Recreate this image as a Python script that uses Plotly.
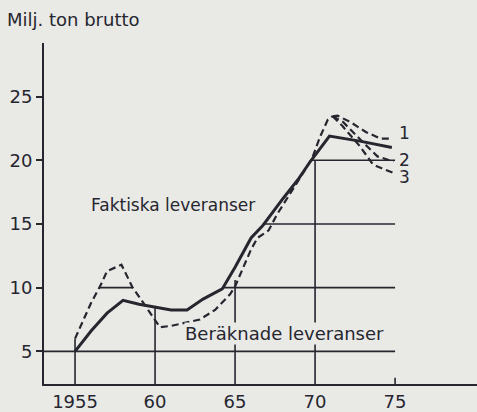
import numpy as np
import plotly.graph_objects as go

# Faktiska leveranser (solid line)
fakt_years = [1955, 1956, 1957, 1958, 1959, 1960, 1961, 1962, 1963, 1964.2, 1965, 1966,
              1966.75, 1968, 1969, 1969.7, 1970.9, 1972.8, 1974.8]
fakt_vals = [5.0, 6.6, 8.0, 9.0, 8.7, 8.45, 8.25, 8.25, 9.1, 9.9, 11.6, 13.9,
             14.9, 17.0, 18.6, 19.9, 21.9, 21.5, 21.0]

# Beräknade leveranser (dashed), common part up to the 1971 peak
ber_years = [1955, 1956, 1956.6, 1957.0, 1957.9, 1958.6, 1959.3, 1960.0, 1960.3, 1961, 1962,
             1962.8, 1963.75, 1964.7, 1965.0, 1966.0, 1966.4, 1967.1, 1967.6, 1968.5, 1969.4,
             1969.8, 1970.3, 1970.8, 1971.1]
ber_vals = [6.0, 8.8, 10.2, 11.3, 11.8, 10.0, 8.75, 7.5, 6.9, 7.0, 7.3,
            7.5, 8.25, 9.5, 10.1, 13.0, 13.9, 14.5, 15.7, 17.5, 19.3,
            20.1, 21.8, 23.2, 23.45]

# three alternatives after the peak
alt_names = ["1", "2", "3"]
alt_years = [
    [1971.1, 1971.4, 1972.2, 1973.2, 1974.1, 1974.7],
    [1971.1, 1971.75, 1973.0, 1973.9, 1974.9],
    [1971.1, 1971.7, 1972.8, 1973.6, 1973.9, 1974.9],
]
alt_vals = [
    [23.45, 23.5, 23.0, 22.2, 21.7, 21.7],
    [23.45, 23.0, 21.4, 20.3, 19.9],
    [23.45, 22.7, 21.1, 19.7, 19.5, 19.0],
]
alt_label_y = [22.1, 20.0, 18.7]

x_ticks = [1955, 1960, 1965, 1970, 1975]
x_tick_text = ["1955", "60", "65", "70", "75"]
y_ticks = [5, 10, 15, 20, 25]

bg = "#e9e9e6"
ink = "#26262f"
font = "DejaVu Sans, Liberation Sans, sans-serif"
x_lo, x_hi = 1953.06, 1980.12
y_lo, y_hi = 2.44, 29.2

fig = go.Figure()

# guide lines: horizontals start where the actual curve reaches the level
rise = slice(7, None)
for lvl in y_ticks[:-1]:
    if lvl == 5:
        x0 = x_lo
    else:
        x0 = float(np.interp(lvl, fakt_vals[rise], fakt_years[rise]))
    fig.add_shape(type="line", x0=x0, x1=1975, y0=lvl, y1=lvl,
                  line=dict(color=ink, width=1.6), layer="below")
# small segment inside the dashed hump
hx0 = float(np.interp(10, ber_vals[:5], ber_years[:5]))
hx1 = float(np.interp(10, ber_vals[4:8][::-1], ber_years[4:8][::-1]))
fig.add_shape(type="line", x0=hx0, x1=hx1, y0=10, y1=10,
              line=dict(color=ink, width=1.6), layer="below")
# verticals up to the curves
guide_tops = [6.0, 8.45, 10.6, 20.0]
for yr, top in zip(x_ticks[:-1], guide_tops):
    fig.add_shape(type="line", x0=yr, x1=yr, y0=y_lo, y1=top,
                  line=dict(color=ink, width=1.6), layer="below")
fig.add_shape(type="line", x0=1975, x1=1975, y0=y_lo, y1=y_lo + 0.5,
              line=dict(color=ink, width=1.6))

dash = "7px,4px"
fig.add_trace(go.Scatter(x=ber_years, y=ber_vals, mode="lines",
                         line=dict(color=ink, width=2.2, dash=dash)))
for yrs, vals in zip(alt_years, alt_vals):
    fig.add_trace(go.Scatter(x=yrs, y=vals, mode="lines",
                             line=dict(color=ink, width=2.2, dash=dash)))
fig.add_trace(go.Scatter(x=fakt_years, y=fakt_vals, mode="lines",
                         line=dict(color=ink, width=3)))

for name, ly in zip(alt_names, alt_label_y):
    fig.add_annotation(x=1975.1, y=ly, text=name, showarrow=False, xanchor="left",
                       font=dict(size=17, color=ink, family=font))

fig.add_annotation(x=1961.1, y=16.5, text="Faktiska leveranser", showarrow=False,
                   font=dict(size=17, color=ink, family=font))
fig.add_annotation(x=1968.1, y=6.4, text="Beräknade leveranser", showarrow=False,
                   bgcolor=bg, borderpad=0,
                   font=dict(size=18, color=ink, family=font))

fig.update_layout(
    width=477, height=412,
    margin=dict(l=44, r=0, t=43, b=24),
    paper_bgcolor=bg, plot_bgcolor=bg,
    showlegend=False,
    title=dict(text="Milj. ton brutto", xref="container", yref="container",
               x=7 / 477, y=1 - 20 / 412, xanchor="left", yanchor="middle",
               font=dict(size=18, color=ink, family=font)),
    font=dict(family=font, color=ink),
)
fig.update_xaxes(range=[x_lo, x_hi], showgrid=False, zeroline=False,
                 showline=True, linecolor=ink, linewidth=1.8,
                 tickvals=x_ticks, ticktext=x_tick_text, ticks="",
                 tickfont=dict(size=18, color=ink))
fig.update_yaxes(range=[y_lo, y_hi], showgrid=False, zeroline=False,
                 showline=True, linecolor=ink, linewidth=1.8,
                 tickvals=y_ticks, ticks="outside", ticklen=6, tickwidth=1.5,
                 tickcolor=ink, tickfont=dict(size=18, color=ink))

fig.write_html("out.html", config={"displayModeBar": False},
               post_script="document.body.style.margin='0';")
